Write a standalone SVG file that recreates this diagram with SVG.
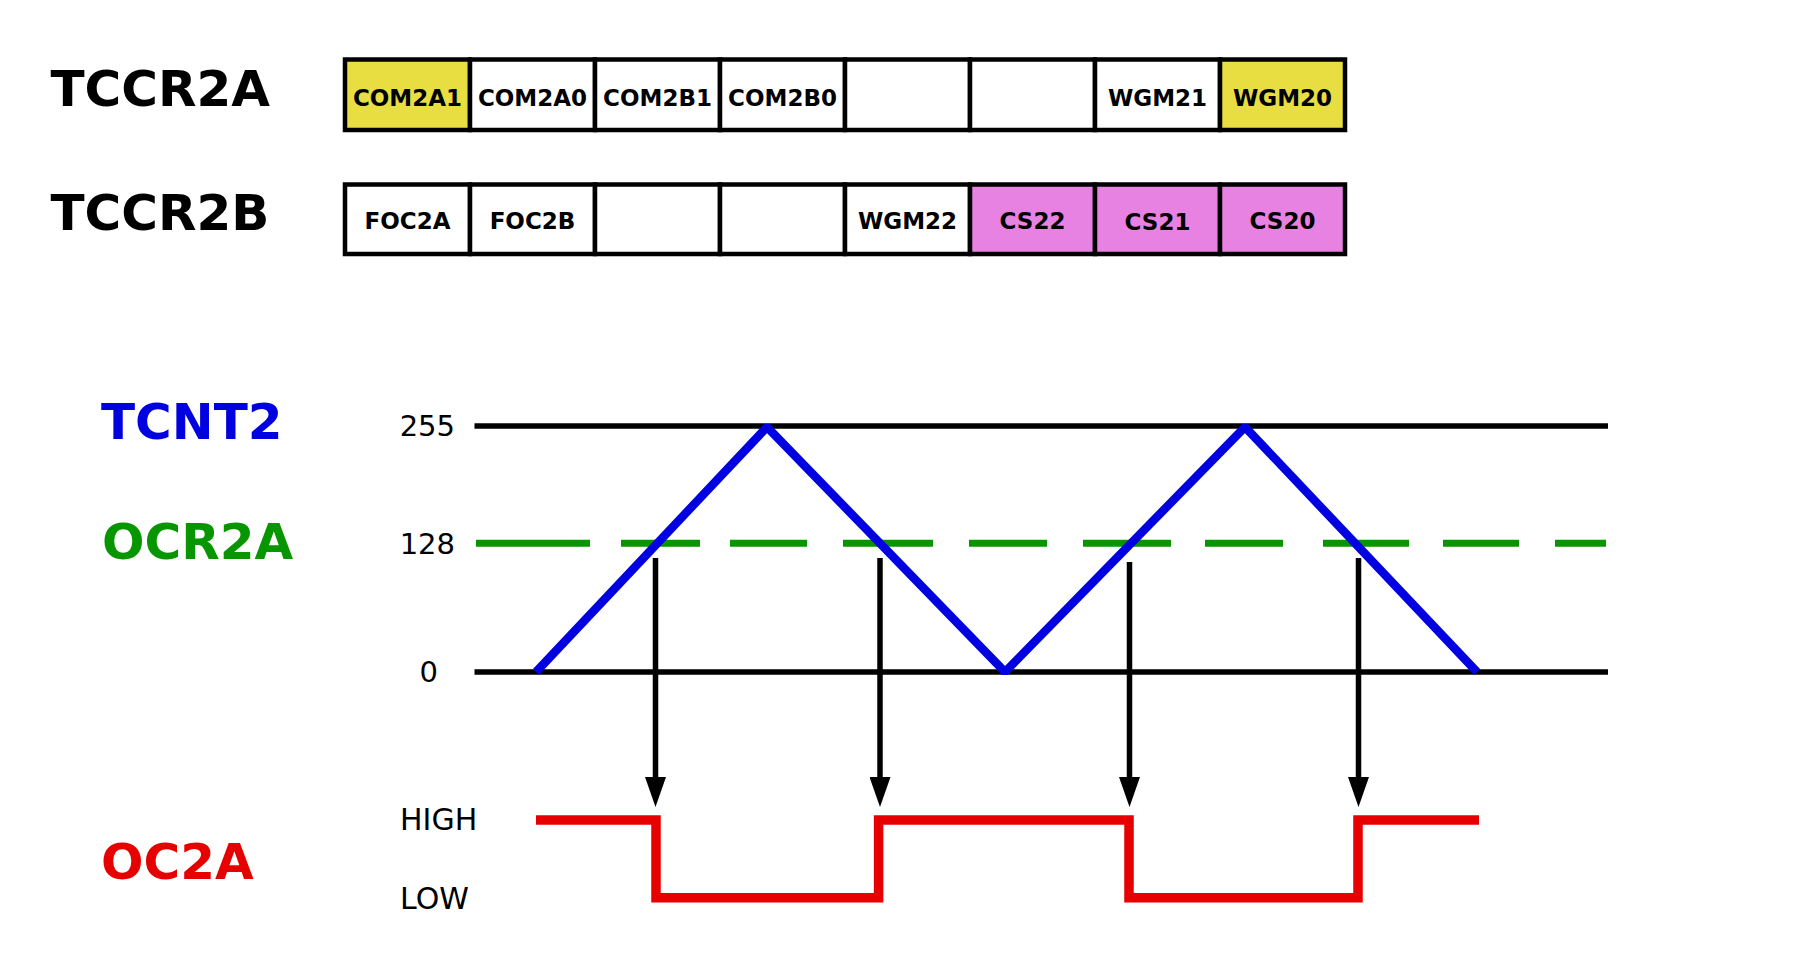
<svg xmlns="http://www.w3.org/2000/svg" width="1800" height="960" viewBox="0 0 1800 960">
  <style>
    .title { font-family: "DejaVu Sans", Verdana, sans-serif; font-weight: bold; font-size: 50px; }
    .cell rect { stroke: #000; stroke-width: 4.5; }
    .cell text { font-family: "DejaVu Sans", Verdana, sans-serif; font-weight: bold; font-size: 23px; text-anchor: middle; fill: #000; }
    .w { fill: #fff; }
    .y { fill: #E8DE42; }
    .p { fill: #E882E2; }
    .axis { font-family: "DejaVu Sans", Verdana, sans-serif; font-size: 29px; fill: #000; }
    .lvl { font-family: "DejaVu Sans", Verdana, sans-serif; font-size: 30px; fill: #000; }
    .ref { stroke: #000; stroke-width: 5.5; fill: none; }
    .arrow { stroke: #000; stroke-width: 5.5; fill: none; marker-end: url(#head); }
  </style>
  <defs>
    <marker id="head" markerUnits="userSpaceOnUse" markerWidth="30" markerHeight="21" refX="0" refY="10.5" orient="auto" viewBox="0 0 30 21">
      <path d="M0,0 L30,10.5 L0,21 Z" fill="#000"/>
    </marker>
  </defs>
  <rect width="1800" height="960" fill="#fff"/>

  <g id="label-tccr2a"><text class="title" x="50.5" y="106">TCCR2A</text></g>
  <g id="label-tccr2b"><text class="title" x="50.5" y="229.5">TCCR2B</text></g>

  <g id="reg-tccr2a">
    <g id="com2a1" class="cell"><rect class="y" x="345" y="59.5" width="125" height="70.5"/><text x="407.5" y="106">COM2A1</text></g>
    <g id="com2a0" class="cell"><rect class="w" x="470" y="59.5" width="125" height="70.5"/><text x="532.5" y="106">COM2A0</text></g>
    <g id="com2b1" class="cell"><rect class="w" x="595" y="59.5" width="125" height="70.5"/><text x="657.5" y="106">COM2B1</text></g>
    <g id="com2b0" class="cell"><rect class="w" x="720" y="59.5" width="125" height="70.5"/><text x="782.5" y="106">COM2B0</text></g>
    <g id="a-bit3" class="cell"><rect class="w" x="845" y="59.5" width="125" height="70.5"/></g>
    <g id="a-bit2" class="cell"><rect class="w" x="970" y="59.5" width="125" height="70.5"/></g>
    <g id="wgm21" class="cell"><rect class="w" x="1095" y="59.5" width="125" height="70.5"/><text x="1157.5" y="106">WGM21</text></g>
    <g id="wgm20" class="cell"><rect class="y" x="1220" y="59.5" width="125" height="70.5"/><text x="1282.5" y="106">WGM20</text></g>
  </g>

  <g id="reg-tccr2b">
    <g id="foc2a" class="cell"><rect class="w" x="345" y="184.5" width="125" height="69.5"/><text x="407.5" y="228.5">FOC2A</text></g>
    <g id="foc2b" class="cell"><rect class="w" x="470" y="184.5" width="125" height="69.5"/><text x="532.5" y="228.5">FOC2B</text></g>
    <g id="b-bit5" class="cell"><rect class="w" x="595" y="184.5" width="125" height="69.5"/></g>
    <g id="b-bit4" class="cell"><rect class="w" x="720" y="184.5" width="125" height="69.5"/></g>
    <g id="wgm22" class="cell"><rect class="w" x="845" y="184.5" width="125" height="69.5"/><text x="907.5" y="228.5">WGM22</text></g>
    <g id="cs22" class="cell"><rect class="p" x="970" y="184.5" width="125" height="69.5"/><text x="1032.5" y="228.5">CS22</text></g>
    <g id="cs21" class="cell"><rect class="p" x="1095" y="184.5" width="125" height="69.5"/><text x="1157.5" y="229.5">CS21</text></g>
    <g id="cs20" class="cell"><rect class="p" x="1220" y="184.5" width="125" height="69.5"/><text x="1282.5" y="228.5">CS20</text></g>
  </g>

  <g id="label-tcnt2"><text class="title" x="101" y="439" fill="#0000E0">TCNT2</text></g>
  <g id="label-ocr2a"><text class="title" x="102" y="559" fill="#089600">OCR2A</text></g>
  <g id="label-oc2a"><text class="title" x="101" y="879" fill="#E60000">OC2A</text></g>

  <g id="axis-labels">
    <text class="axis" x="455" y="436" text-anchor="end">255</text>
    <text class="axis" x="455" y="554" text-anchor="end">128</text>
    <text class="axis" x="438" y="682" text-anchor="end">0</text>
    <text class="lvl" x="400" y="830">HIGH</text>
    <text class="lvl" x="400" y="909">LOW</text>
  </g>

  <g id="reference-lines">
    <line class="ref" x1="474.5" y1="426" x2="1608" y2="426"/>
    <line class="ref" x1="474.5" y1="672" x2="1608" y2="672"/>
    <path id="ocr2a-level" d="M476,543.3 H590 M621,543.3 H700 M730,543.3 H807 M843,543.3 H933 M969,543.3 H1047 M1083,543.3 H1171 M1205,543.3 H1283 M1323,543.3 H1409 M1443,543.3 H1519 M1555,543.3 H1606" stroke="#089600" stroke-width="7" fill="none"/>
  </g>

  <g id="tcnt2-wave">
    <path d="M536,672 L767,427 L1005,672 L1245,427 L1477,672" stroke="#0000E0" stroke-width="8.5" fill="none" stroke-linejoin="bevel"/>
  </g>

  <g id="oc2a-wave">
    <path d="M536,820 H656 V897.7 H878.6 V820 H1129 V897.7 H1358 V820 H1479" stroke="#E60000" stroke-width="9.5" fill="none" stroke-linejoin="miter"/>
  </g>

  <g id="connectors">
    <line class="arrow" x1="655.5" y1="558" x2="655.5" y2="777"/>
    <line class="arrow" x1="880" y1="558" x2="880" y2="777"/>
    <line class="arrow" x1="1129.5" y1="562" x2="1129.5" y2="777"/>
    <line class="arrow" x1="1358.5" y1="558" x2="1358.5" y2="777"/>
  </g>
</svg>
